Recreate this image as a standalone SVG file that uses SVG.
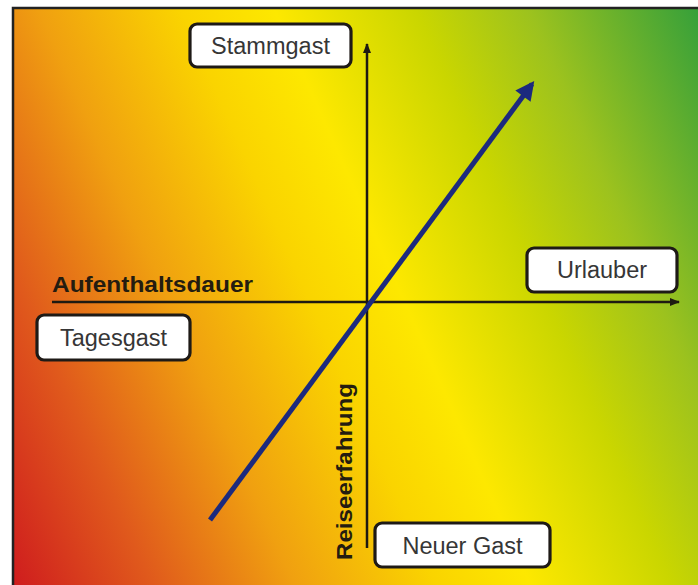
<svg xmlns="http://www.w3.org/2000/svg" width="698" height="585" viewBox="0 0 698 585">
<style>
.box{fill:#fff;stroke:#1e1a16;stroke-width:3.2}
.lbl{font-family:"Liberation Sans",Arial,sans-serif;font-size:23.5px;fill:#363636;text-anchor:middle}
.ax{font-family:"Liberation Sans",Arial,sans-serif;font-size:22px;font-weight:bold;fill:#241c10}
.axis{stroke:#1e1a12;stroke-width:2.5;fill:none}
</style>
<defs>
<linearGradient id="bg" gradientUnits="userSpaceOnUse" x1="12" y1="585" x2="799" y2="235">
<stop offset="0" stop-color="#cf1c1e"/>
<stop offset="0.15" stop-color="#e05a1c"/>
<stop offset="0.3" stop-color="#f0a010"/>
<stop offset="0.45" stop-color="#fad400"/>
<stop offset="0.55" stop-color="#fde800"/>
<stop offset="0.7" stop-color="#cad600"/>
<stop offset="0.82" stop-color="#9cc21e"/>
<stop offset="1" stop-color="#36a03a"/>
</linearGradient>
<marker id="ah" viewBox="0 0 10 10" refX="9" refY="5" markerWidth="4" markerHeight="4" orient="auto" markerUnits="strokeWidth">
<path d="M0,1 L10,5 L0,9 Z" fill="#1e1a12"/>
</marker>
<marker id="bh" viewBox="0 0 10 10" refX="8" refY="5" markerWidth="4.6" markerHeight="3.8" orient="auto" markerUnits="strokeWidth">
<path d="M0,0 L10,5 L0,10 Z" fill="#1c2a7e"/>
</marker>
</defs>
<rect x="0" y="0" width="698" height="585" fill="#fff"/>
<rect x="13" y="8" width="692" height="582" fill="url(#bg)" stroke="#222" stroke-width="2.5"/>
<g id="connectors">
<line class="axis" x1="367" y1="548" x2="367" y2="44" marker-end="url(#ah)"/>
<line class="axis" x1="52" y1="302" x2="679" y2="302" marker-end="url(#ah)"/>
<line x1="210" y1="520" x2="532" y2="84" stroke="#1c2a7e" stroke-width="5" marker-end="url(#bh)"/>
</g>
<g id="axis-x-label"><text class="ax" x="52" y="292" textLength="201" lengthAdjust="spacingAndGlyphs">Aufenthaltsdauer</text></g>
<g id="axis-y-label"><text class="ax" transform="translate(352,560) rotate(-90)" x="0" y="0" textLength="177" lengthAdjust="spacingAndGlyphs">Reiseerfahrung</text></g>
<g id="stammgast"><rect class="box" x="190" y="24" width="161" height="43" rx="7"/><text class="lbl" x="270.5" y="54">Stammgast</text></g>
<g id="urlauber"><rect class="box" x="527" y="248" width="150" height="44" rx="7"/><text class="lbl" x="602" y="278">Urlauber</text></g>
<g id="tagesgast"><rect class="box" x="37" y="315" width="153" height="45" rx="7"/><text class="lbl" x="113.5" y="346">Tagesgast</text></g>
<g id="neuer-gast"><rect class="box" x="375" y="523" width="175" height="44" rx="7"/><text class="lbl" x="462.5" y="554">Neuer Gast</text></g>
</svg>
